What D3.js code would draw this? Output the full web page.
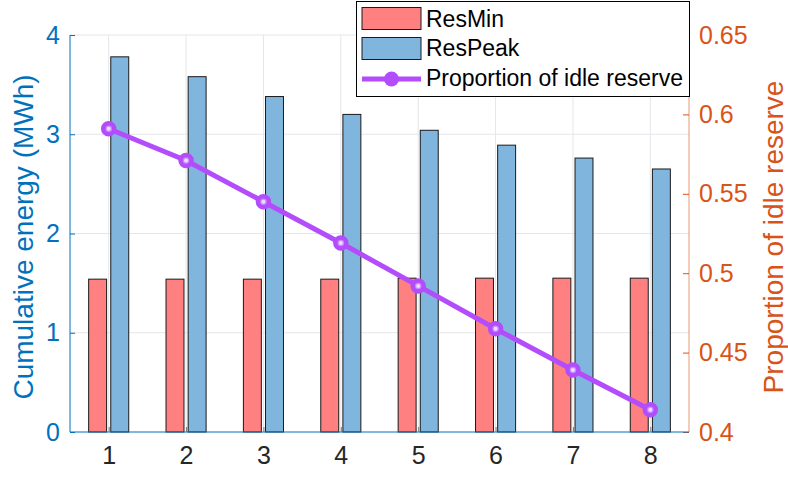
<!DOCTYPE html>
<html><head><meta charset="utf-8">
<script src="https://cdn.jsdelivr.net/npm/d3@7"></script>
<style>body{margin:0;background:#fff}svg{display:block;font-family:"Liberation Sans",Arial,Helvetica,sans-serif}</style>
</head><body><svg id="c" width="788" height="478"></svg>
<script>
const categories = [1,2,3,4,5,6,7,8];
const resMin  = [1.54,1.54,1.54,1.54,1.55,1.55,1.55,1.55];
const resPeak = [3.78,3.58,3.38,3.20,3.04,2.89,2.76,2.65];
const idleProp = [0.591,0.571,0.545,0.519,0.492,0.465,0.439,0.414];
const leftTicks = [0,1,2,3,4];
const rightTicks = [0.4,0.45,0.5,0.55,0.6,0.65];
const seriesNames = ["ResMin","ResPeak","Proportion of idle reserve"];

const C_L = "#0072BD", C_R = "#D95319", C_RED = "#ff8080", C_BLUE = "#80b6de", C_LINE = "#b34dfc";
const m = {l:70, r:689, t:35, b:432};
const svg = d3.select("#c");
const x = d3.scaleLinear().domain([0.5,8.5]).range([m.l,m.r]);
const yL = d3.scaleLinear().domain([0,4]).range([m.b,m.t]);
const yR = d3.scaleLinear().domain([0.4,0.65]).range([m.b,m.t]);
const step = x(2)-x(1), bw = step*0.232, off = step*0.143;

// grid
const g = svg.append("g");
g.selectAll(".vg").data(categories).join("line").attr("x1",d=>x(d)).attr("x2",d=>x(d)).attr("y1",m.t).attr("y2",m.b).attr("stroke","#e3e6ea").attr("stroke-width",1);
g.selectAll(".hg").data(leftTicks.filter(d=>d>0)).join("line").attr("x1",m.l).attr("x2",m.r).attr("y1",d=>yL(d)).attr("y2",d=>yL(d)).attr("stroke","#e3e6ea").attr("stroke-width",1);

// bars
svg.append("g").selectAll("rect").data(categories).join("rect")
  .attr("x",(d,i)=>x(d)-off-bw/2).attr("width",bw).attr("y",(d,i)=>yL(resMin[i])).attr("height",(d,i)=>yL(0)-yL(resMin[i]))
  .attr("fill",C_RED).attr("stroke","#1a1a1a").attr("stroke-width",1);
svg.append("g").selectAll("rect").data(categories).join("rect")
  .attr("x",(d,i)=>x(d)+off-bw/2).attr("width",bw).attr("y",(d,i)=>yL(resPeak[i])).attr("height",(d,i)=>yL(0)-yL(resPeak[i]))
  .attr("fill",C_BLUE).attr("stroke","#1a1a1a").attr("stroke-width",1);

// axes
const axL = svg.append("g").attr("transform",`translate(${m.l},0)`)
  .call(d3.axisLeft(yL).tickValues(leftTicks).tickSize(-5).tickPadding(10).tickFormat(d3.format("d")));
axL.select(".domain").attr("stroke",C_L).attr("d",`M0,${m.t}V${m.b}`);
axL.selectAll(".tick line").attr("stroke",C_L);
axL.selectAll("text").attr("fill",C_L).attr("font-size",25).attr("font-family","Liberation Sans, Arial, sans-serif");

const axR = svg.append("g").attr("transform",`translate(${m.r},0)`)
  .call(d3.axisRight(yR).tickValues(rightTicks).tickSize(-6).tickPadding(10).tickFormat(d=>String(+d.toFixed(2))));
axR.select(".domain").attr("stroke",C_R).attr("stroke-opacity",0.6).attr("d",`M0,${m.t}V${m.b}`);
axR.selectAll(".tick line").attr("stroke",C_R);
axR.selectAll("text").attr("fill",C_R).attr("font-size",25).attr("font-family","Liberation Sans, Arial, sans-serif");

const axB = svg.append("g").attr("transform",`translate(0,${m.b})`)
  .call(d3.axisBottom(x).tickValues(categories).tickSize(-5).tickPadding(14).tickFormat(d3.format("d")));
axB.select(".domain").attr("stroke",C_L).attr("d",`M${m.l},0H${m.r}`);
axB.selectAll(".tick line").attr("stroke","#777");
axB.selectAll("text").attr("fill","#262626").attr("font-size",25).attr("font-family","Liberation Sans, Arial, sans-serif");

// line
const line = d3.line().x((d,i)=>x(categories[i])).y(d=>yR(d));
svg.append("path").datum(idleProp).attr("d",line).attr("fill","none").attr("stroke",C_LINE).attr("stroke-width",5);
svg.append("g").selectAll("circle").data(idleProp).join("circle")
  .attr("cx",(d,i)=>x(categories[i])).attr("cy",d=>yR(d)).attr("r",5.5)
  .attr("fill","#c98cff").attr("stroke",C_LINE).attr("stroke-width",4.5);
svg.append("g").selectAll("circle").data(idleProp).join("circle")
  .attr("cx",(d,i)=>x(categories[i])).attr("cy",d=>yR(d)).attr("r",2)
  .attr("fill","#eedcff");

// labels
svg.append("text").attr("transform",`translate(33,237) rotate(-90)`).attr("text-anchor","middle")
  .attr("fill",C_L).attr("font-size",28).text("Cumulative energy (MWh)");
svg.append("text").attr("transform",`translate(783,237) rotate(-90)`).attr("text-anchor","middle")
  .attr("fill",C_R).attr("font-size",28).text("Proportion of idle reserve");

// legend
const lg = svg.append("g");
lg.append("rect").attr("x",356.5).attr("y",1.5).attr("width",333).attr("height",95).attr("fill","#fff").attr("stroke","#000").attr("stroke-width",1);
lg.append("rect").attr("x",362).attr("y",7.5).attr("width",59).attr("height",22).attr("fill",C_RED).attr("stroke","#1a1a1a");
lg.append("rect").attr("x",362).attr("y",37.5).attr("width",59).attr("height",22).attr("fill",C_BLUE).attr("stroke","#1a1a1a");
lg.append("line").attr("x1",362).attr("x2",421).attr("y1",79).attr("y2",79).attr("stroke",C_LINE).attr("stroke-width",5);
lg.append("circle").attr("cx",391.5).attr("cy",79).attr("r",7.5).attr("fill",C_LINE);
const ly = [27,56,86];
seriesNames.forEach((n,i)=>lg.append("text").attr("x",426).attr("y",ly[i]).attr("font-size",23).attr("fill","#000").text(n));
</script></body></html>
